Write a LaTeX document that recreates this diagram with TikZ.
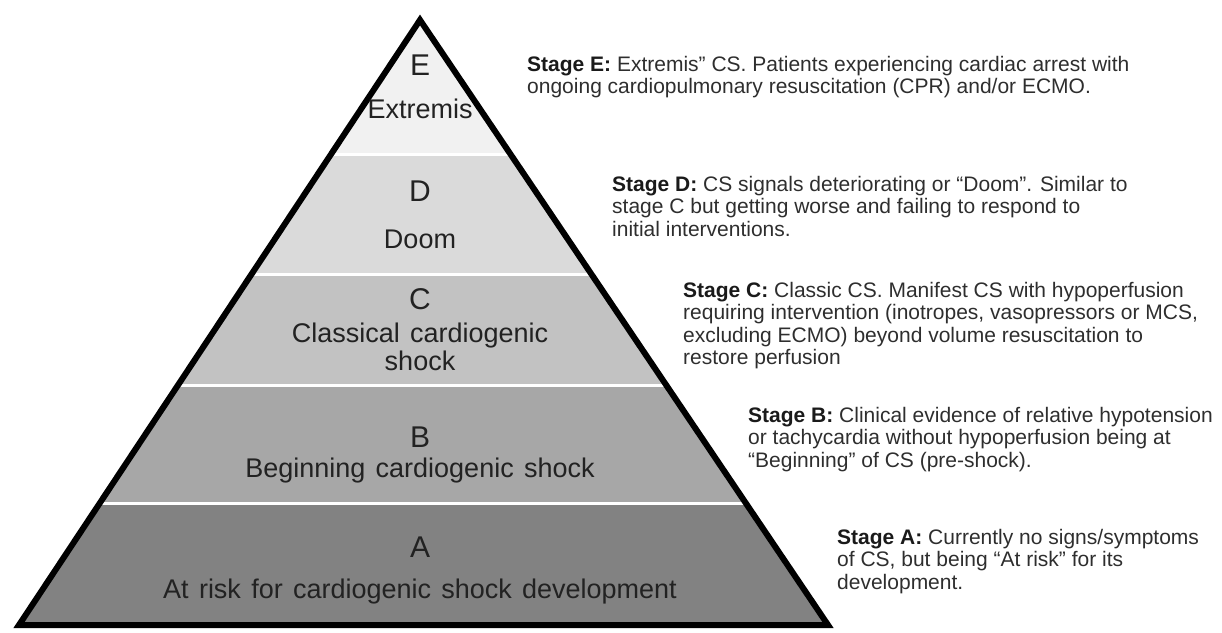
\documentclass[tikz,border=0pt]{standalone}
\usepackage{fontspec}
\setmainfont{Liberation Sans}
\definecolor{bandA}{HTML}{828282}
\definecolor{bandB}{HTML}{A7A7A7}
\definecolor{bandC}{HTML}{C2C2C2}
\definecolor{bandD}{HTML}{DADADA}
\definecolor{bandE}{HTML}{F1F1F1}
\definecolor{labtext}{HTML}{222222}
\definecolor{sidetext}{HTML}{2E2E2E}
\definecolor{sidebold}{HTML}{1A1A1A}
\begin{document}
\begin{tikzpicture}[x=1pt,y=-1pt,
  letterlab/.style={anchor=base, inner sep=0pt, text=labtext, font={\fontsize{30}{32}\selectfont}},
  namelab/.style={anchor=base, inner sep=0pt, text=labtext, align=center, font={\fontsize{27}{28}\selectfont\spaceskip=0.38em}},
  sidenote/.style={anchor=north west, inner sep=0pt, text=sidetext, align=left, font={\fontsize{21}{22.3}\selectfont}},
  sep/.style={white, line width=3pt},
  outline/.style={black, line width=6pt, line join=miter}
]
\useasboundingbox (0,0) rectangle (1222,632);
\coordinate (apex) at (420,20);
\coordinate (bl) at (19,625);
\coordinate (br) at (828,625);
\begin{scope}
  \clip (apex) -- (bl) -- (br) -- cycle;
  \fill[bandE] (0,0) rectangle (1222,154);
  \fill[bandD] (0,154) rectangle (1222,274);
  \fill[bandC] (0,274) rectangle (1222,385);
  \fill[bandB] (0,385) rectangle (1222,503);
  \fill[bandA] (0,503) rectangle (1222,632);
  \draw[sep] (0,154) -- (1222,154);
  \draw[sep] (0,274) -- (1222,274);
  \draw[sep] (0,385) -- (1222,385);
  \draw[sep] (0,503) -- (1222,503);
\end{scope}
\draw[outline] (apex) -- (bl) -- (br) -- cycle;

\node[letterlab] (letE) at (420,75) {E};
\node[namelab] (labE) at (420,118) {Extremis};
\node[letterlab] (letD) at (420,201) {D};
\node[namelab] (labD) at (420,248) {Doom};
\node[letterlab] (letC) at (420,309) {C};
\node[namelab] (labC1) at (420,342) {Classical cardiogenic};
\node[namelab] (labC2) at (420,370) {shock};
\node[letterlab] (letB) at (420,447) {B};
\node[namelab] (labB) at (420,477) {Beginning cardiogenic shock};
\node[letterlab] (letA) at (420,557) {A};
\node[namelab] (labA) at (420,598) {At risk for cardiogenic shock development};

\node[sidenote] (noteE) at (527,56) {\textcolor{sidebold}{\textbf{Stage E:}} Extremis” CS. Patients experiencing cardiac arrest with\\ongoing cardiopulmonary resuscitation (CPR) and/or ECMO.};
\node[sidenote] (noteD) at (612,176) {\textcolor{sidebold}{\textbf{Stage D:}} CS signals deteriorating or “Doom”. Similar to\\stage C but getting worse and failing to respond to\\initial interventions.};
\node[sidenote] (noteC) at (683,282) {\textcolor{sidebold}{\textbf{Stage C:}} Classic CS. Manifest CS with hypoperfusion\\requiring intervention (inotropes, vasopressors or MCS,\\excluding ECMO) beyond volume resuscitation to\\restore perfusion};
\node[sidenote] (noteB) at (748,407) {\textcolor{sidebold}{\textbf{Stage B:}} Clinical evidence of relative hypotension\\or tachycardia without hypoperfusion being at\\“Beginning” of CS (pre-shock).};
\node[sidenote] (noteA) at (837,529) {\textcolor{sidebold}{\textbf{Stage A:}} Currently no signs/symptoms\\of CS, but being “At risk” for its\\development.};
\end{tikzpicture}
\end{document}
